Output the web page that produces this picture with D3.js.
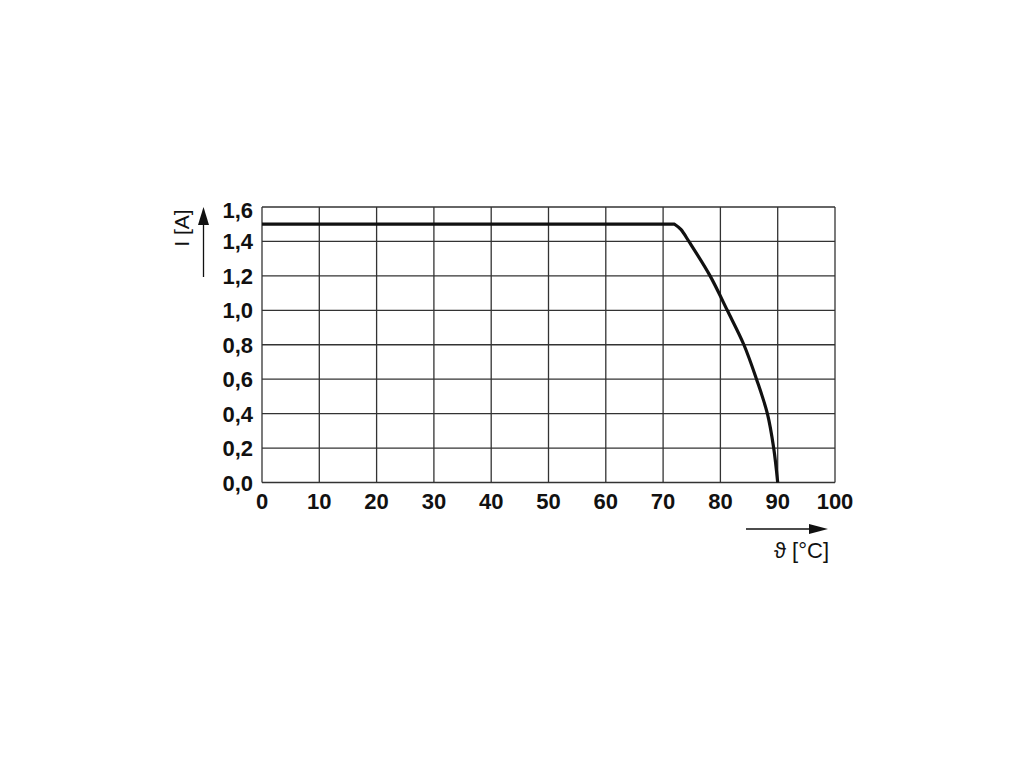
<!DOCTYPE html>
<html>
<head>
<meta charset="utf-8">
<script src="https://cdn.jsdelivr.net/npm/d3@7"></script>
<style>
  body { margin: 0; background: #fff; }
  text { font-family: "Liberation Sans", Arial, sans-serif; fill: #111; }
</style>
</head>
<body>
<svg id="chart" width="1020" height="765"></svg>
<script>
// derating curve: current vs ambient temperature
const temps = [0, 72, 73.1, 74.5, 78.2, 81.2, 84.1, 86.3, 88.2, 89.3, 90];
const current = [1.5, 1.5, 1.47, 1.4, 1.2, 1.0, 0.8, 0.6, 0.4, 0.2, 0.0];

const xTicks = [0, 10, 20, 30, 40, 50, 60, 70, 80, 90, 100];
const yTicks = [0, 0.2, 0.4, 0.6, 0.8, 1.0, 1.2, 1.4, 1.6];

const svg = d3.select('#chart');
const plotLeft = 262, plotRight = 835, plotTop = 207, plotBottom = 482.5;

const x = d3.scaleLinear().domain([0, 100]).range([plotLeft, plotRight]);
const y = d3.scaleLinear().domain([0, 1.6]).range([plotBottom, plotTop]);

const fmt = d => d.toFixed(1).replace('.', ',');

// grid
const grid = svg.append('g').attr('stroke', '#333').attr('stroke-width', 1.3);
grid.selectAll('.vx').data(xTicks).join('line')
    .attr('x1', d => x(d)).attr('x2', d => x(d))
    .attr('y1', plotTop).attr('y2', plotBottom);
grid.selectAll('.hy').data(yTicks).join('line')
    .attr('x1', plotLeft).attr('x2', plotRight)
    .attr('y1', d => y(d)).attr('y2', d => y(d));

// tick labels
svg.append('g').selectAll('text').data(xTicks).join('text')
    .attr('x', d => x(d)).attr('y', 509)
    .attr('text-anchor', 'middle')
    .attr('font-size', 22).attr('font-weight', 'bold')
    .text(d => d);
svg.append('g').selectAll('text').data(yTicks).join('text')
    .attr('x', 253).attr('y', d => Math.max(y(d) + 8, 218))   // top label sits a bit lower
    .attr('text-anchor', 'end')
    .attr('font-size', 22).attr('font-weight', 'bold')
    .text(fmt);

// curve: flat part straight, falling part smoothed
const pts = temps.map((t, i) => [t, current[i]]);
const flat = pts.slice(0, 2);
const fall = pts.slice(1);

const straight = d3.line().x(d => x(d[0])).y(d => y(d[1]));
const smooth = d3.line().x(d => x(d[0])).y(d => y(d[1]))
    .curve(d3.curveCatmullRom.alpha(0.5));

svg.append('path').attr('d', straight(flat) + smooth(fall).replace(/^M[^C]*/, ''))
    .attr('fill', 'none')
    .attr('stroke', '#111')
    .attr('stroke-width', 3.2)
    .attr('stroke-linejoin', 'round');

// axis arrows and titles
svg.append('line').attr('x1', 203.5).attr('x2', 203.5).attr('y1', 277).attr('y2', 222)
    .attr('stroke', '#111').attr('stroke-width', 1.3);
svg.append('path').attr('d', 'M198,225 L203.5,207 L209,225 Z').attr('fill', '#111');
svg.append('text')
    .attr('transform', 'translate(189,228) rotate(-90)')
    .attr('text-anchor', 'middle')
    .attr('font-size', 21)
    .text('I [A]');

svg.append('line').attr('x1', 746).attr('x2', 812).attr('y1', 529).attr('y2', 529)
    .attr('stroke', '#111').attr('stroke-width', 1.3);
svg.append('path').attr('d', 'M809,524 L828,529 L809,534 Z').attr('fill', '#111');
svg.append('text')
    .attr('x', 829).attr('y', 558)
    .attr('text-anchor', 'end')
    .attr('font-size', 22)
    .text('\u03D1 [°C]');
</script>
</body>
</html>
